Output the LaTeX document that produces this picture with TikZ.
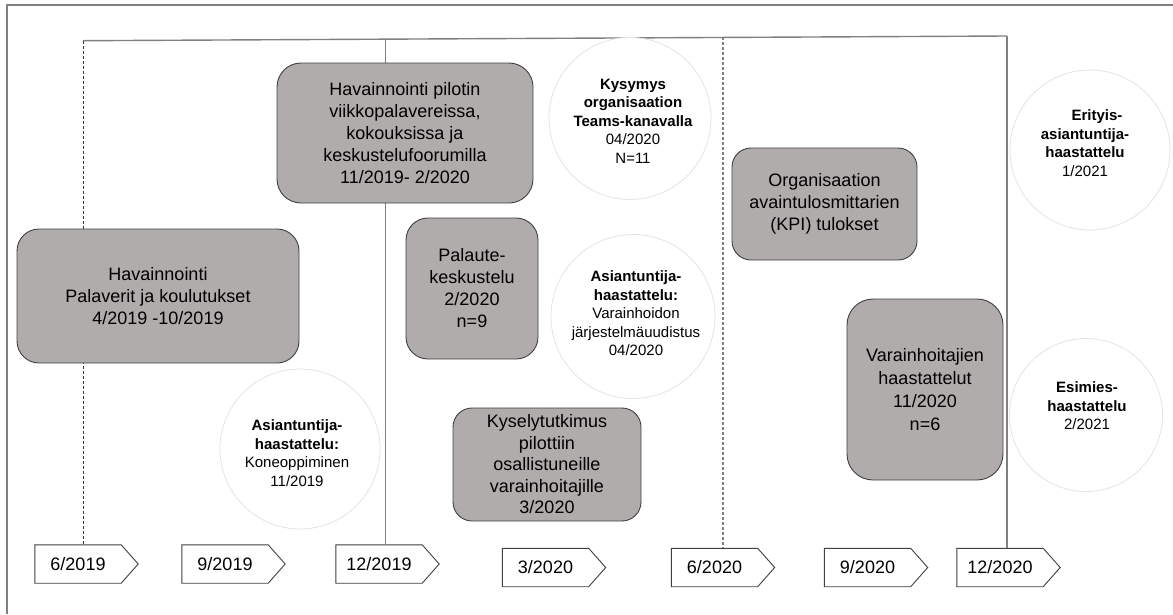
\documentclass[tikz,border=0pt]{standalone}
\usepackage{fontspec}
\setmainfont{Liberation Sans}
\definecolor{boxfill}{RGB}{175,172,171}
\definecolor{boxline}{RGB}{64,64,64}
\definecolor{rulegray}{RGB}{128,128,128}
\definecolor{ringgray}{RGB}{228,228,228}
\begin{document}
\begin{tikzpicture}[x=1pt,y=-1pt,
  frame/.style={draw=rulegray, line width=1.4pt},
  bracket/.style={draw=rulegray, line width=1.4pt},
  dashdark/.style={draw=black!80, line width=0.8pt, dash pattern=on 3pt off 2pt},
  dashgray/.style={draw=rulegray, line width=1.3pt, dash pattern=on 3pt off 2pt},
  box/.style={draw=boxline, fill=boxfill, line width=0.9pt, rounded corners=#1,
    align=center, inner sep=0pt, font=\fontsize{18}{22}\selectfont},
  bubble/.style={circle, draw=ringgray, fill=white, line width=0.8pt, inner sep=0pt},
  bubtext/.style={align=center, inner sep=0pt, font=\fontsize{15}{18.5}\selectfont},
  tagbox/.style={minimum width=86pt, minimum height=38pt, inner sep=0pt,
    font=\fontsize{18}{22}\selectfont},
  tagline/.style={draw=boxline, line width=0.9pt, fill=white},
]
\useasboundingbox (0,0) rectangle (1173,614);

% outer frame
\draw[frame] (7,614) -- (7,5) -- (1180,5);

% time-axis tags
\node[tagbox] (t1) at (78,564) {};
\node[tagbox] (t2) at (225,564) {};
\node[tagbox] (t3) at (379,564) {};
\node[tagbox] (t4) at (545.5,567.5) {};
\node[tagbox] (t5) at (714.5,567.5) {};
\node[tagbox] (t6) at (867.5,567.5) {};
\node[tagbox] (t7) at (1000,567.5) {};
\foreach \t in {t1,t2,t3,t4,t5,t6,t7}{
  \draw[tagline] (\t.north west) -- (\t.north east) -- ([xshift=17pt]\t.east)
    -- (\t.south east) -- (\t.south west) -- cycle;
}
\node[tagbox] at (t1) {6/2019};
\node[tagbox] at (t2) {9/2019};
\node[tagbox] at (t3) {12/2019};
\node[tagbox] at (t4) {3/2020};
\node[tagbox] at (t5) {6/2020};
\node[tagbox] at (t6) {9/2020};
\node[tagbox] at (t7) {12/2020};

% bracket joining the period markers
\coordinate (k1) at (83,40.7);
\coordinate (k2) at (385.5,39.2);
\coordinate (k3) at (723,37.4);
\coordinate (k4) at (1007,36);
\draw[bracket] (k1) -- (k4);
\draw[dashdark] (k1) -- (k1 |- t1.north);
\draw[bracket] (k2) -- (k2 |- t3.north);
\draw[dashgray] (k3) -- (k3 |- t5.north);
\draw[bracket] (k4) -- (k4 |- t7.north);

% observation and survey boxes
\node[box=22, minimum width=282pt, minimum height=134pt] (b1) at (158,296)
  {Havainnointi\\Palaverit ja koulutukset\\4/2019 -10/2019};
\node[box=24, minimum width=256pt, minimum height=140pt] (b2) at (405,133)
  {Havainnointi pilotin\\viikkopalavereissa,\\kokouksissa ja\\keskustelufoorumilla\\11/2019- 2/2020};
\node[box=22, minimum width=132pt, minimum height=141pt] (b3) at (472,288.5)
  {Palaute-\\keskustelu\\2/2020\\n=9};
\node[box=19, minimum width=188pt, minimum height=113pt,
  font=\fontsize{18}{21.5}\selectfont] (b4) at (547,464.5)
  {Kyselytutkimus\\pilottiin\\osallistuneille\\varainhoitajille\\3/2020};
\node[box=19, minimum width=185pt, minimum height=112pt] (b5) at (824.5,204)
  {Organisaation\\avaintulosmittarien\\(KPI) tulokset};
\node[box=26, minimum width=156pt, minimum height=181pt,
  font=\fontsize{18}{23}\selectfont] (b6) at (925,389.5)
  {Varainhoitajien\\haastattelut\\11/2020\\n=6};

% interview bubbles
\node[bubble, minimum size=162pt] (ca) at (630,118.5) {};
\node[bubtext] (cat) at (633,121)
  {\bfseries Kysymys\\\bfseries organisaation\\\bfseries Teams-kanavalla\\04/2020\\N=11};
\node[bubble, minimum size=164pt] (cb) at (633,316.5) {};
\node[bubtext] (cbt) at (636,313.5)
  {\bfseries Asiantuntija-\\\bfseries haastattelu:\\Varainhoidon\\järjestelmäuudistus\\04/2020};
\node[bubble, minimum size=160pt] (cc) at (1090,150) {};
\node[bubtext] (cct) at (1085,143)
  {\bfseries\hspace*{24pt}Erityis-\\\bfseries asiantuntija-\\\bfseries haastattelu\\1/2021};
\node[bubble, minimum size=153pt] (cd) at (1086,415) {};
\node[bubtext] (cdt) at (1087,406)
  {\bfseries Esimies-\\\bfseries haastattelu\\2/2021};
\node[bubble, minimum size=160pt] (ce) at (300,449) {};
\node[bubtext] (cet) at (297,453)
  {\bfseries Asiantuntija-\\\bfseries haastattelu:\\Koneoppiminen\\11/2019};
\end{tikzpicture}
\end{document}
